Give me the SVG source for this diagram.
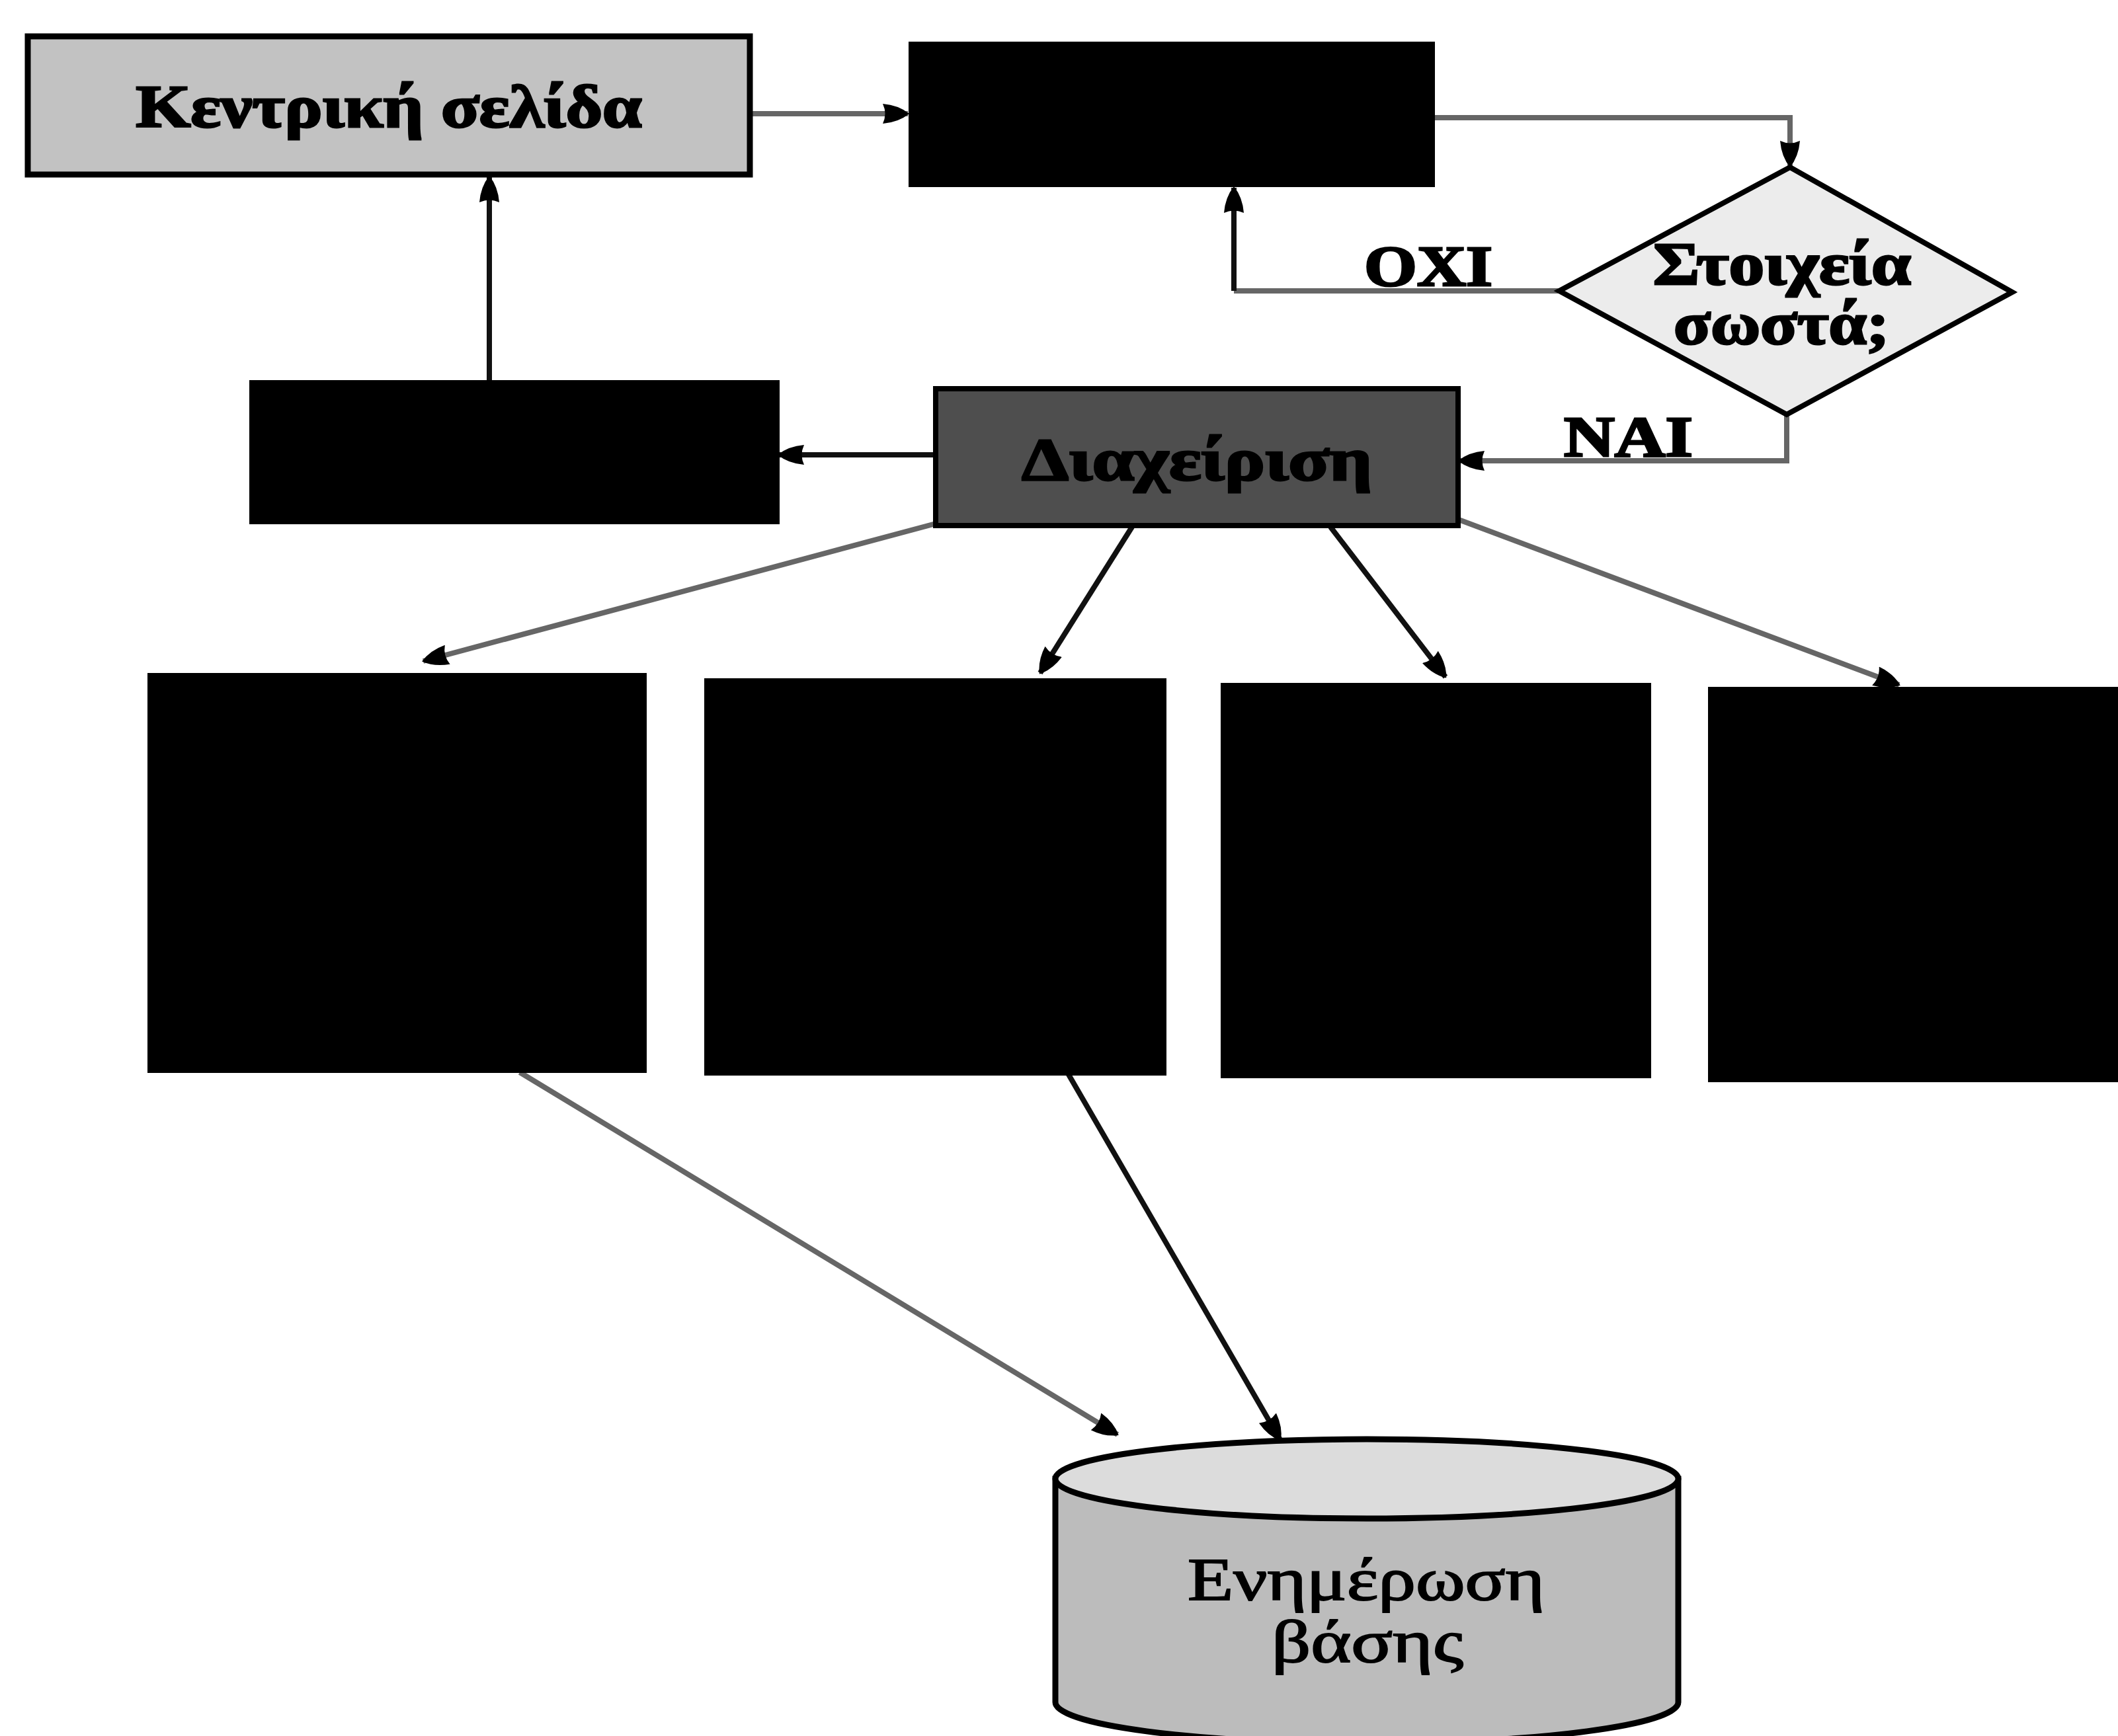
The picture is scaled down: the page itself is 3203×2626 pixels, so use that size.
<svg xmlns="http://www.w3.org/2000/svg" width="3203" height="2626" viewBox="0 0 3203 2626">
<style>
.lbl{font-family:"Liberation Serif","DejaVu Serif",serif;font-weight:bold;fill:#000;stroke:#000;stroke-width:3}
.edge{fill:none;stroke-width:8}
.g{stroke:#666}
.k{stroke:#111}
.blk{fill:#000;stroke:#000;stroke-width:6}
</style>
<defs>
<marker id="ah" markerUnits="userSpaceOnUse" markerWidth="40" markerHeight="34" viewBox="0 0 40 34" refX="38" refY="17" orient="auto">
<path d="M0,2 Q24,4 40,17 Q24,30 0,32 Q7,17 0,2 Z" fill="#000"/>
</marker>
</defs>
<rect width="3203" height="2626" fill="#fff"/>
<g id="connectors">
<path class="edge g" d="M1136,172 H1373" marker-end="url(#ah)"/>
<path class="edge g" d="M2167,178 H2707 V251" marker-end="url(#ah)"/>
<path class="edge g" d="M2358,440 H1866"/>
<path class="edge k" d="M1866,440 V284" marker-end="url(#ah)"/>
<path class="edge g" d="M2702,627 V697 H2207" marker-end="url(#ah)"/>
<path class="edge k" d="M1415,688 H1178" marker-end="url(#ah)"/>
<path class="edge k" d="M740,578 V268" marker-end="url(#ah)"/>
<path class="edge g" d="M1430,788 L640,1000" marker-end="url(#ah)"/>
<path class="edge k" d="M1712,797 L1573,1018" marker-end="url(#ah)"/>
<path class="edge k" d="M2012,797 L2186,1024" marker-end="url(#ah)"/>
<path class="edge g" d="M2206,786 L2872,1036" marker-end="url(#ah)"/>
<path class="edge g" d="M786,1622 L1690,2170" marker-end="url(#ah)"/>
<path class="edge k" d="M1614,1622 L1936,2178" marker-end="url(#ah)"/>
<text class="lbl" x="2063" y="432" font-size="86" textLength="194" lengthAdjust="spacingAndGlyphs">ΟΧΙ</text>
<text class="lbl" x="2365" y="690" font-size="86" textLength="195" lengthAdjust="spacingAndGlyphs">ΝΑΙ</text>
</g>
<g id="home">
<rect x="42" y="55" width="1092" height="209" fill="#c2c2c2" stroke="#000" stroke-width="9"/>
<text class="lbl" x="588" y="192" font-size="90" text-anchor="middle" textLength="765" lengthAdjust="spacingAndGlyphs">Κεντρική σελίδα</text>
</g>
<g id="box-top"><rect class="blk" x="1377" y="66" width="790" height="214"/></g>
<g id="decision">
<polygon points="2707,253 3043,442 2702,627 2358,440" fill="#ececec" stroke="#000" stroke-width="8"/>
<text class="lbl" x="2695" y="430" font-size="90" text-anchor="middle" textLength="390" lengthAdjust="spacingAndGlyphs">Στοιχεία</text>
<text class="lbl" x="2694" y="520" font-size="90" text-anchor="middle" textLength="326" lengthAdjust="spacingAndGlyphs">σωστά;</text>
</g>
<g id="box-left"><rect class="blk" x="380" y="578" width="796" height="212"/></g>
<g id="manage">
<rect x="1415" y="588" width="790" height="207" fill="#4e4e4e" stroke="#000" stroke-width="8"/>
<text class="lbl" x="1810" y="726" font-size="90" text-anchor="middle" textLength="530" lengthAdjust="spacingAndGlyphs">Διαχείριση</text>
</g>
<g id="box-a"><rect class="blk" x="226" y="1021" width="749" height="599"/></g>
<g id="box-b"><rect class="blk" x="1068" y="1029" width="693" height="595"/></g>
<g id="box-c"><rect class="blk" x="1849" y="1036" width="645" height="592"/></g>
<g id="box-d"><rect class="blk" x="2586" y="1042" width="630" height="592"/></g>
<g id="database">
<path d="M1596,2237 V2575 A471,62 0 0 0 2538,2575 V2237 Z" fill="#bcbcbc" stroke="#000" stroke-width="9"/>
<ellipse cx="2067" cy="2237" rx="471" ry="60" fill="#dcdcdc" stroke="#000" stroke-width="9"/>
<text x="2066" y="2420" font-family="Liberation Serif, DejaVu Serif, serif" font-size="92" fill="#000" stroke="#000" stroke-width="2" text-anchor="middle" textLength="540" lengthAdjust="spacingAndGlyphs">Ενημέρωση</text>
<text x="2068" y="2514" font-family="Liberation Serif, DejaVu Serif, serif" font-size="92" fill="#000" stroke="#000" stroke-width="2" text-anchor="middle" textLength="290" lengthAdjust="spacingAndGlyphs">βάσης</text>
</g>
</svg>
